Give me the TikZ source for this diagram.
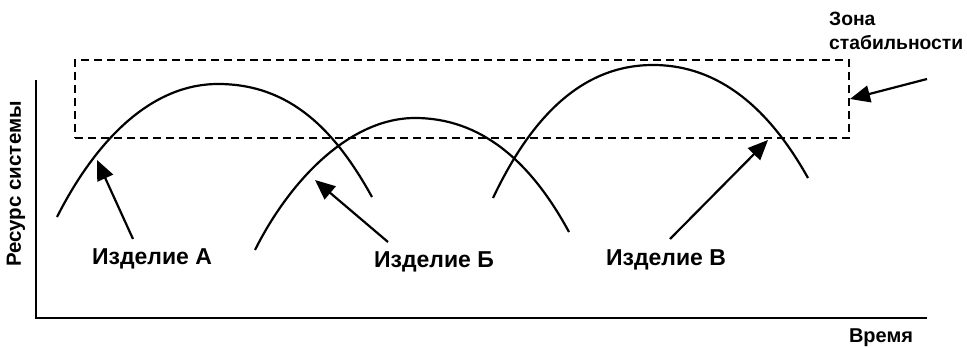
\documentclass[tikz,border=0pt]{standalone}
\usepackage{fontspec}
\setmainfont{Liberation Sans}
\usetikzlibrary{arrows.meta}
\tikzset{
  pointer/.style={line width=2.2pt,-{Triangle[length=20pt,width=17pt]}}}
\begin{document}
\begin{tikzpicture}[x=1pt,y=-1pt,
  curve/.style={line width=2.2pt},
  axis/.style={line width=2.4pt},
  zone/.style={line width=2pt,dash pattern=on 8pt off 5pt},
  lbl/.style={font=\bfseries\fontsize{20}{23}\selectfont,inner sep=0pt},
  biglbl/.style={lbl,font=\bfseries\fontsize{23}{26}\selectfont}]
\useasboundingbox (0,0) rectangle (967,348);
% axes
\coordinate (o) at (36,318);
\coordinate (ytop) at (36,80);
\coordinate (xend) at (927,318);
\draw[axis] (ytop) -- (o) -- (xend);
\node[lbl,rotate=90,font=\bfseries\fontsize{20.5}{23}\selectfont] (ylab) at (16,184) {Ресурс системы};
\node[lbl] (xlab) at (881,338) {Время};
% zone of stability
\node[draw,zone,minimum width=774pt,minimum height=78pt,inner sep=0pt] (zone) at (462,99) {};
\node[lbl,align=left,anchor=north west,font=\bfseries\fontsize{19.3}{24}\selectfont] (zlab) at (829,12) {Зона\\стабильности};
\coordinate (ztail) at (927,79);
\draw[pointer] (ztail) -- (zone.east);
% curves
\draw[curve] (57,217) .. controls (95,142) and (150,84) .. (218,84)
  .. controls (290,84) and (335,130) .. (372,197);
\draw[curve] (255,250) .. controls (290,180) and (350,118) .. (415,118)
  .. controls (480,118) and (530,160) .. (569,232);
\draw[curve] (493,198) .. controls (530,120) and (580,65) .. (653,65)
  .. controls (720,65) and (770,110) .. (808,178);
% labels
\node[biglbl] (la) at (152,259) {Изделие А};
\node[biglbl] (lb) at (434,262) {Изделие Б};
\node[biglbl] (lc) at (666,260) {Изделие В};
\coordinate (ta) at (133,239);
\coordinate (ha) at (97,160);
\coordinate (tb) at (388,242);
\coordinate (hb) at (315,180);
\coordinate (tc) at (670,239);
\coordinate (hc) at (768,140);
\draw[pointer] (ta) -- (ha);
\draw[pointer] (tb) -- (hb);
\draw[pointer] (tc) -- (hc);
\end{tikzpicture}
\end{document}
